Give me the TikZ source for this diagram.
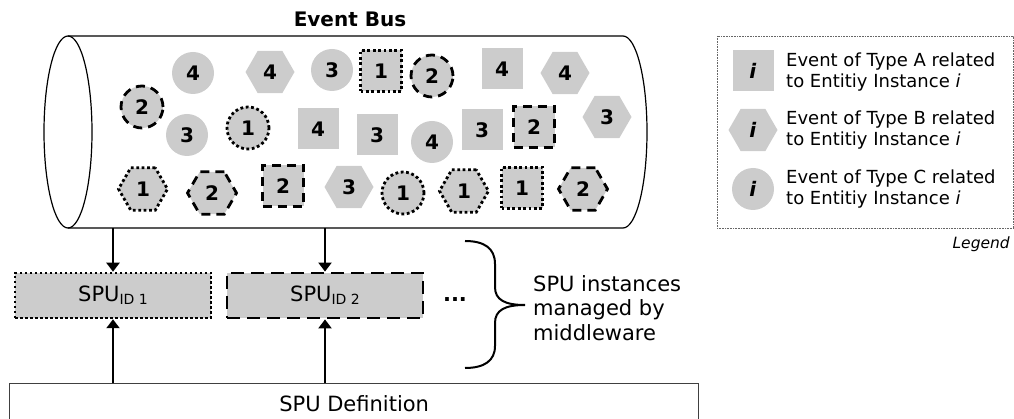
\documentclass[tikz,border=0pt]{standalone}
\usepackage{fontspec}
\setmainfont{DejaVu Sans}
\usetikzlibrary{arrows.meta}
\usetikzlibrary{shapes.geometric}
\definecolor{evgray}{RGB}{204,204,204}
\definecolor{defgray}{RGB}{64,64,64}

\begin{document}
\begin{tikzpicture}[x=1pt,y=-1pt,
  evnum/.style={inner sep=0pt, fill=evgray, font=\fontsize{20}{20}\selectfont\bfseries},
  evA/.style={evnum, rectangle, minimum size=41pt},
  evB/.style={evnum, regular polygon, regular polygon sides=6, minimum size=49pt},
  evC/.style={evnum, circle, minimum size=42pt},
  dotline/.style={draw, line width=2.8pt, dash pattern=on 2.8pt off 2.6pt},
  dashline/.style={draw, line width=2.8pt, dash pattern=on 9pt off 6pt},
  spubox/.style={rectangle, fill=evgray, minimum width=196pt, minimum height=45pt, font=\fontsize{21}{21}\selectfont},
  flow/.style={line width=2pt, -{Triangle[width=13pt,length=9pt]}},
  legtext/.style={anchor=west, align=left, inner sep=0pt, font=\fontsize{18}{21.5}\selectfont}]
\clip (0,0) rectangle (1014,419);

% event bus
\node[font=\fontsize{20}{20}\selectfont\bfseries] (title) at (350,19) {Event Bus};
\draw[line width=1.2pt] (68,36) -- (623,36) arc[start angle=-90, end angle=90, x radius=24, y radius=96] -- (68,228);
\draw[line width=1.2pt] (68,132) ellipse[x radius=24, y radius=96];
\coordinate (busbot) at (68,228);

% first row
\node[evC] (c4a) at (193,73) {4};
\node[evB] (h4a) at (270,72) {4};
\node[evC] (c3a) at (332,70) {3};
\node[evA,dotline] (s1a) at (381,71) {1};
\node[evC,dashline] (c2a) at (432,76) {2};
\node[evA] (s4a) at (502,69) {4};
\node[evB] (h4b) at (565,73) {4};

% second row
\node[evC,dashline] (c2b) at (142,107) {2};
\node[evC] (c3b) at (187,135) {3};
\node[evC,dotline] (c1a) at (248,128) {1};
\node[evA] (s4b) at (318,129) {4};
\node[evA] (s3a) at (377,135) {3};
\node[evC] (c4b) at (432,142) {4};
\node[evA] (s3b) at (482,130) {3};
\node[evA,dashline] (s2a) at (534,127) {2};
\node[evB] (h3a) at (607,117) {3};

% third row
\node[evB,dotline] (h1a) at (143,189) {1};
\node[evB,dashline] (h2a) at (212,193) {2};
\node[evA,dashline] (s2b) at (283,186) {2};
\node[evB] (h3b) at (349,187) {3};
\node[evC,dotline] (c1b) at (403,193) {1};
\node[evB,dotline] (h1b) at (464,191) {1};
\node[evA,dotline] (s1b) at (522,188) {1};
\node[evB,dashline] (h2b) at (583,189) {2};

% spu instances
\node[spubox, draw, line width=2.5pt, dash pattern=on 2.5pt off 2.5pt] (spu1) at (113,295.5) {SPU\raisebox{-3pt}{\fontsize{14}{14}\selectfont ID 1}};
\node[spubox, dashline, dash pattern=on 13pt off 7pt] (spu2) at (325,295.5) {SPU\raisebox{-3pt}{\fontsize{14}{14}\selectfont ID 2}};
\node[anchor=base, inner sep=0pt, font=\fontsize{21}{21}\selectfont\bfseries] (more) at (455,302) {...};

\draw[line width=2pt] (465,241) .. controls (484,241) and (495,248) .. (495,264) -- (495,287)
  .. controls (495,300) and (505,305) .. (525,305) .. controls (505,305) and (495,310) .. (495,323)
  -- (495,346) .. controls (495,361) and (484,368) .. (465,368);
\node[anchor=west, align=left, inner sep=0pt, font=\fontsize{21}{24.5}\selectfont] (inst) at (533,308) {SPU instances\\managed by\\middleware};

\node[draw=defgray, line width=1.3pt, minimum width=689pt, minimum height=40pt, anchor=north west, font=\fontsize{21}{21}\selectfont] (def) at (9,383) {SPU Definition};

\draw[flow] (spu1.north |- busbot) -- (spu1.north);
\draw[flow] (spu2.north |- busbot) -- (spu2.north);
\draw[flow] (def.north -| spu1.south) -- (spu1.south);
\draw[flow] (def.north -| spu2.south) -- (spu2.south);

% legend
\draw[draw=black!60, line width=0.8pt, dash pattern=on 0.8pt off 0.8pt] (717,36) rectangle (1013,228);
\node[evA] (legA) at (753,71) {\textit{i}};
\node[evB] (legB) at (753,130) {\textit{i}};
\node[evC] (legC) at (753,189) {\textit{i}};
\node[legtext] (txtA) at (786,72) {Event of Type A related\\to Entitiy Instance \textit{i}};
\node[legtext] (txtB) at (786,130) {Event of Type B related\\to Entitiy Instance \textit{i}};
\node[legtext] (txtC) at (786,189) {Event of Type C related\\to Entitiy Instance \textit{i}};
\node[anchor=east, inner sep=0pt, font=\fontsize{15.5}{15.5}\selectfont\itshape] (legend) at (1010,244) {Legend};

\end{tikzpicture}
\end{document}
